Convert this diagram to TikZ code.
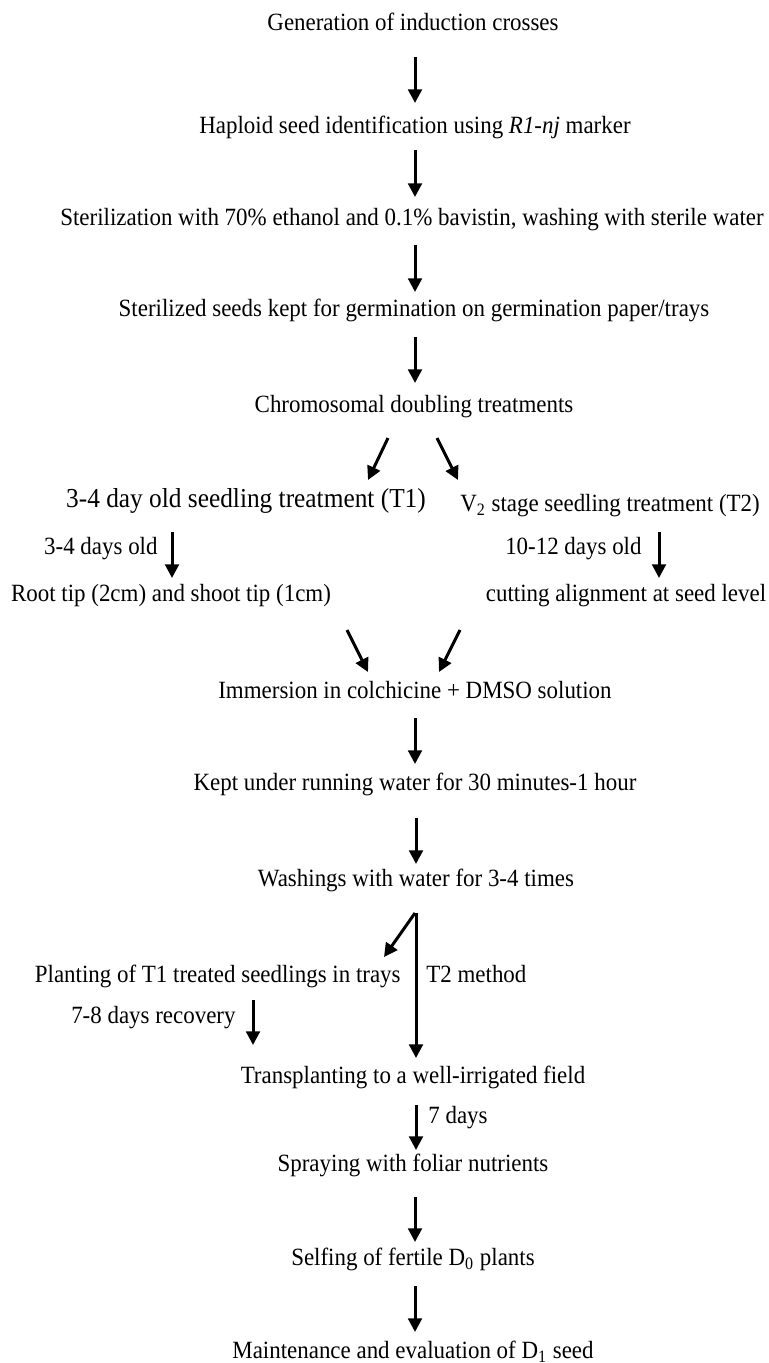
\documentclass[tikz,border=0pt]{standalone}
\usepackage{fontspec}
\setmainfont{Liberation Serif}[FakeStretch=0.925]
\usetikzlibrary{arrows.meta}

\tikzset{
  lbl/.style={inner sep=0pt, font=\fontsize{12.4}{15}\selectfont, text height=8.7pt, text depth=3.1pt},
  biglbl/.style={lbl, font=\fontsize{13.7}{17}\selectfont},
  arr/.style={line width=1.5pt, -{Triangle[width=6.8pt,length=6.8pt]}},
}

\begin{document}
\begin{tikzpicture}[x=0.5pt,y=-0.5pt]
\useasboundingbox (0,0) rectangle (769,1363);

% main steps
\node[lbl] (gen)   at (413,25)   {Generation of induction crosses};
\node[lbl] (hap)   at (415,128)  {Haploid seed identification using \textit{R1-nj} marker};
\node[lbl] (ster)  at (412,220)  {Sterilization with 70\% ethanol and 0.1\% bavistin, washing with sterile water};
\node[lbl] (germ)  at (414,311)  {Sterilized seeds kept for germination on germination paper/trays};
\node[lbl] (chrom) at (414,407)  {Chromosomal doubling treatments};

% two treatments
\node[biglbl] (tone) at (246,502) {3-4 day old seedling treatment (T1)};
\node[lbl] (ttwo)    at (610,506) {V\textsubscript{2} stage seedling treatment (T2)};
\node[lbl,anchor=east] (dold) at (158,549) {3-4 days old};
\node[lbl,anchor=east] (dtwo) at (642,549) {10-12 days old};
\node[lbl] (root)    at (171,596) {Root tip (2cm) and shoot tip (1cm)};
\node[lbl] (cut)     at (626,596) {cutting alignment at seed level};

% after treatment
\node[lbl] (imm)   at (415,693)  {Immersion in colchicine + DMSO solution};
\node[lbl] (kept)  at (415,785)  {Kept under running water for 30 minutes-1 hour};
\node[lbl] (wash)  at (416,881)  {Washings with water for 3-4 times};
\node[lbl,anchor=east] (plant) at (401,977) {Planting of T1 treated seedlings in trays};
\node[lbl,anchor=west] (tmeth) at (426,977) {T2 method};
\node[lbl,anchor=east] (recov) at (236,1018) {7-8 days recovery};
\node[lbl] (trans) at (413,1078) {Transplanting to a well-irrigated field};
\node[lbl,anchor=west] (seven) at (428,1118) {7 days};
\node[lbl] (spray) at (413,1166) {Spraying with foliar nutrients};
\node[lbl] (self)  at (413,1260) {Selfing of fertile D\textsubscript{0} plants};
\node[lbl] (main)  at (413,1353) {Maintenance and evaluation of D\textsubscript{1} seed};

% arrows
\foreach \i/\xa/\ya/\xb/\yb in {1/415/57/415/103, 2/415/150/415/197, 3/415/245/415/292,
  4/415/337/415/383, 5/388/438/368/480, 6/437/438/458/480, 7/172/532/172/578,
  8/659/532/659/578, 9/347/630/368/672, 10/460/630/439/672, 11/415/718/415/764,
  12/416/818/416/864, 13/415/913/384/957, 14/416/913/416/1058, 15/253/1000/253/1045,
  16/416/1105/416/1150, 17/415/1197/415/1242, 18/415/1286/415/1332}{
  \coordinate (p\i) at (\xa,\ya);
  \coordinate (q\i) at (\xb,\yb);
  \draw[arr] (p\i) -- (q\i);
}

\end{tikzpicture}
\end{document}
